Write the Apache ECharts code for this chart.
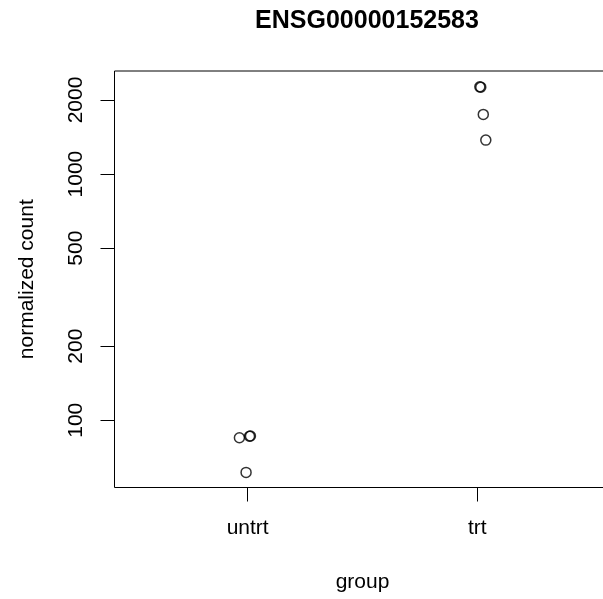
<!DOCTYPE html>
<html>
<head>
<meta charset="utf-8">
<script src="https://cdn.jsdelivr.net/npm/echarts@6/dist/echarts.min.js"></script>
<style>
html,body{margin:0;padding:0;background:#fff;}
#c{width:603px;height:599px;}
</style>
</head>
<body>
<div id="c"></div>
<script>
var title = 'ENSG00000152583';
var categories = ['untrt', 'trt'];
var groupIndex = [1, 1, 1, 1, 2, 2, 2, 2];
var jitterX = [0.964, 1.008, 1.012, 0.993, 2.011, 2.015, 2.026, 2.037];
var counts = [84.9, 86.1, 86.3, 61.4, 2262, 2255, 1748, 1374];
var yTicks = [100, 200, 500, 1000, 2000];

var pts = counts.map(function (v, i) { return [jitterX[i], v]; });
var font = 'Liberation Sans, Arial, Helvetica, sans-serif';

var chart = echarts.init(document.getElementById('c'));
chart.setOption({
  animation: false,
  backgroundColor: '#fff',
  title: {
    text: title,
    left: 362, top: 4, textAlign: 'center',
    textStyle: { fontFamily: font, fontWeight: 'bold', fontSize: 25, color: '#000' }
  },
  grid: {
    left: 114.5, top: 71, width: 496, height: 416.5,
    outerBoundsMode: 'none', containLabel: false,
    show: true, borderColor: '#000', borderWidth: 1, backgroundColor: 'transparent'
  },
  xAxis: {
    type: 'value', min: 0.42, max: 2.58,
    name: 'group', nameLocation: 'middle', nameGap: 84,
    nameTextStyle: { fontFamily: font, fontSize: 21, color: '#000' },
    axisLine: { show: false },
    splitLine: { show: false },
    axisTick: { show: true, length: 14, lineStyle: { color: '#000' }, customValues: [1, 2] },
    axisLabel: {
      customValues: [1, 2], margin: 30,
      fontFamily: font, fontSize: 21, color: '#000',
      formatter: function (v) { return categories[Math.round(v) - 1]; }
    }
  },
  yAxis: {
    type: 'log', logBase: 10, min: 53.3, max: 2623,
    name: 'normalized count', nameLocation: 'middle', nameGap: 77, nameRotate: 90,
    nameTextStyle: { fontFamily: font, fontSize: 21, color: '#000' },
    axisLine: { show: false },
    splitLine: { show: false },
    axisTick: { show: true, length: 14, lineStyle: { color: '#000' }, customValues: yTicks },
    axisLabel: {
      customValues: yTicks, rotate: 90, margin: 28,
      fontFamily: font, fontSize: 21, color: '#000',
      formatter: function (v) { return String(Math.round(v)); }
    }
  },
  series: [{
    type: 'scatter',
    data: pts,
    symbol: 'circle',
    symbolSize: 10,
    itemStyle: { color: 'rgba(0,0,0,0)', borderColor: '#000', borderWidth: 1.5 },
    clip: false
  }]
});
</script>
</body>
</html>
